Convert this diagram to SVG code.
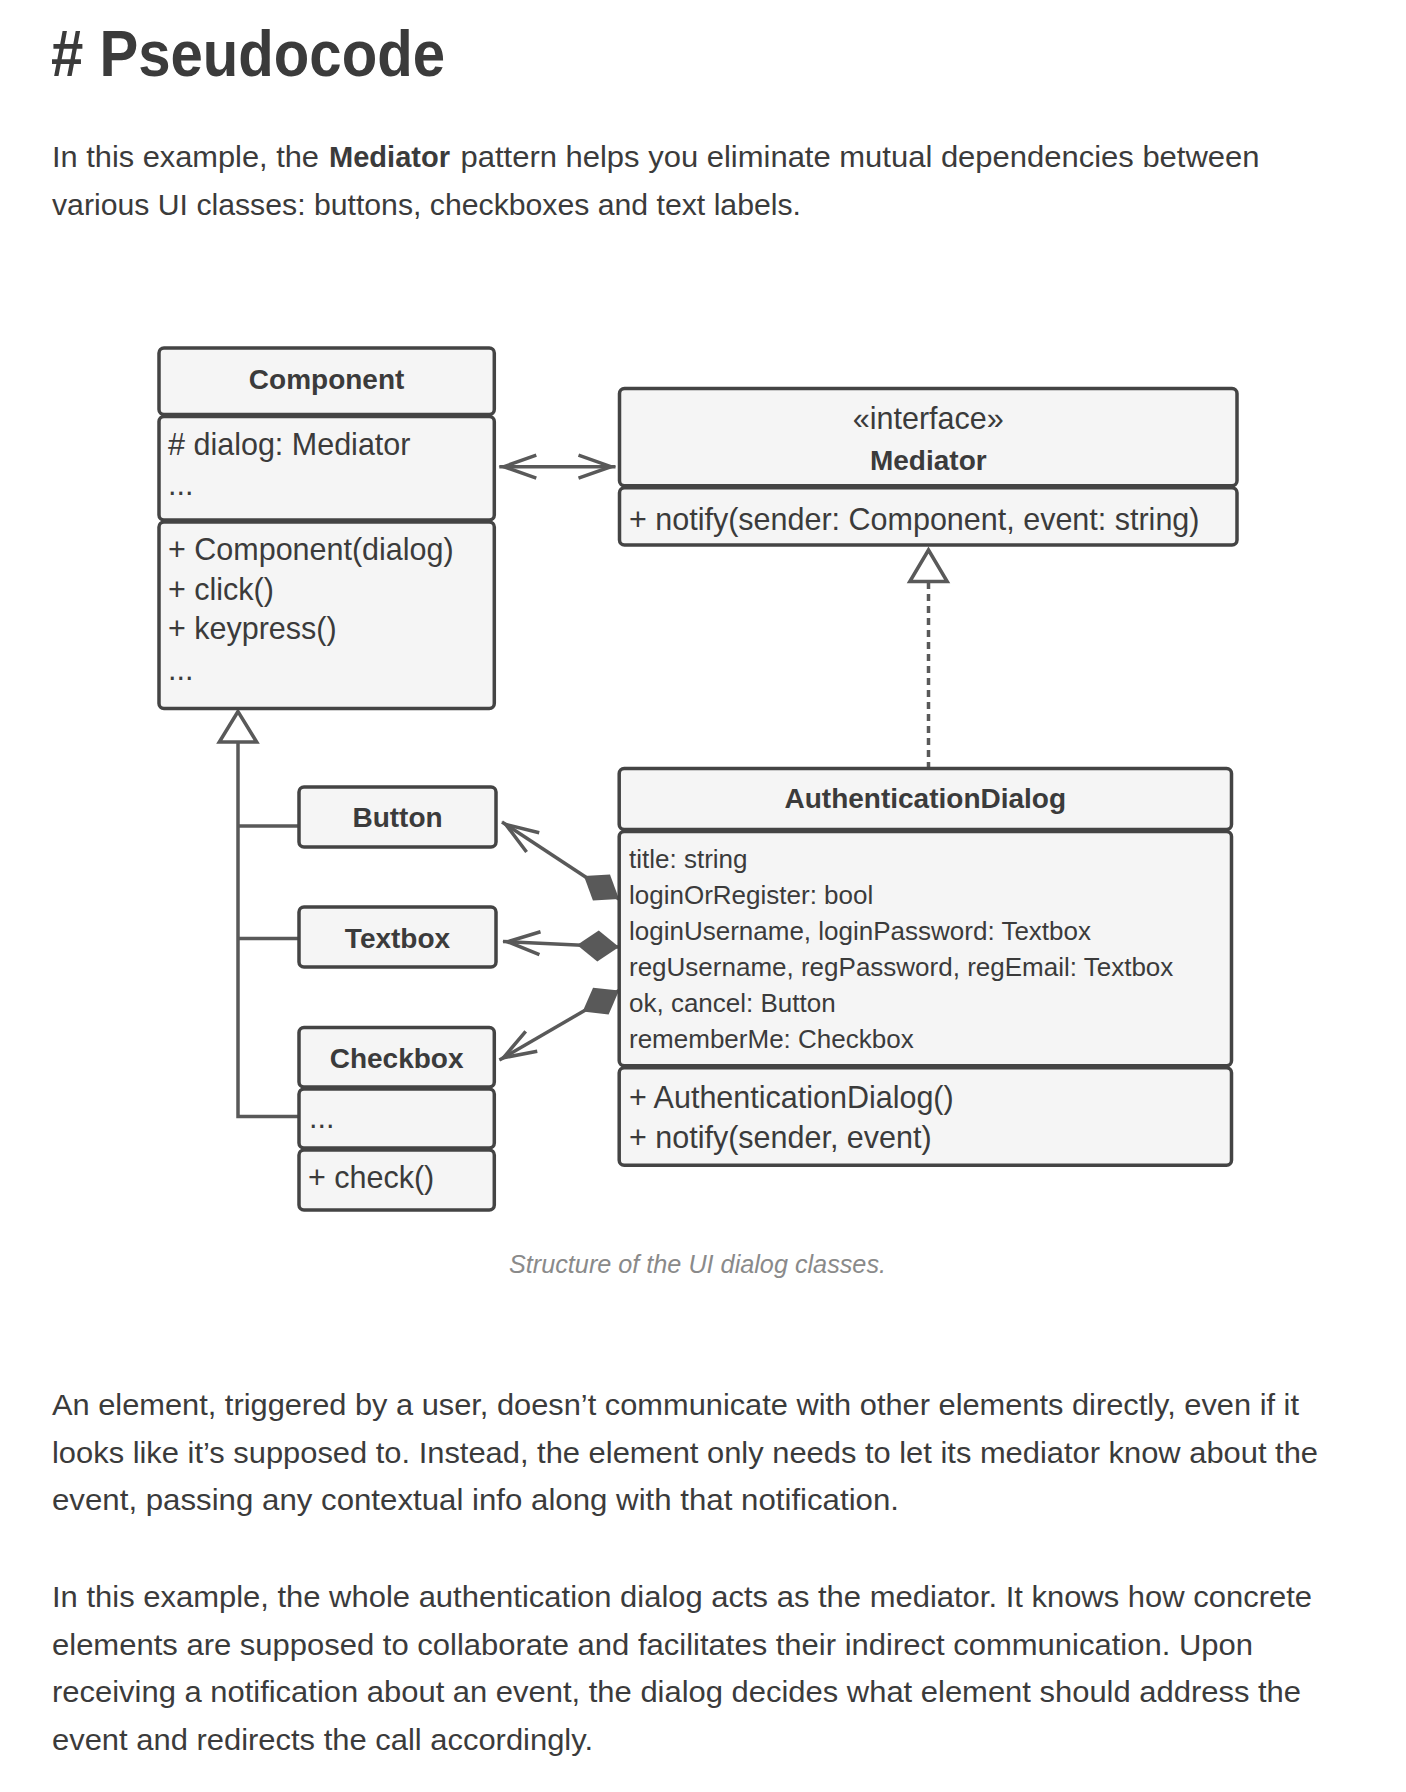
<svg xmlns="http://www.w3.org/2000/svg" width="1406" height="1792" viewBox="0 0 1406 1792">
<defs>
<style>
.t{font-family:"Liberation Sans",Arial,sans-serif;fill:#3b3b3b}
.p{font-size:29px}
.b{font-weight:bold}
.h{font-size:64px;font-weight:bold}
.cap{font-size:26px;font-style:italic;fill:#8a8a8a}
.box rect{fill:#f5f5f5;stroke:#444;stroke-width:3.5}
.n{font-size:28px;font-weight:bold;text-anchor:middle}
.st{font-size:30.5px;text-anchor:middle}
.m{font-size:30.5px}
.a{font-size:26px}
.con{fill:none;stroke:#595959;stroke-width:3.5}
.tri{fill:#fff;stroke:#595959;stroke-width:3.5;stroke-linejoin:miter}
</style>
<marker id="arr" viewBox="-40 -14 44 28" refX="0" refY="0" markerWidth="44" markerHeight="28" markerUnits="userSpaceOnUse" orient="auto-start-reverse" overflow="visible">
<path d="M-37,-11.5 L-4.5,0 L-37,11.5" fill="none" stroke="#595959" stroke-width="3.5"/>
</marker>
<marker id="dia" viewBox="-2 -17 46 34" refX="0" refY="0" markerWidth="46" markerHeight="34" markerUnits="userSpaceOnUse" orient="auto" overflow="visible">
<path d="M0,0 L21,-15.5 L42,0 L21,15.5 Z" fill="#595959"/>
</marker>
</defs>
<rect width="1406" height="1792" fill="#fff"/>

<g id="text-top">
<text class="t h" x="51" y="76" textLength="394" lengthAdjust="spacingAndGlyphs"># Pseudocode</text>
<text class="t p" x="52" y="167" textLength="267" lengthAdjust="spacingAndGlyphs">In this example, the</text>
<text class="t p b" x="329" y="167" textLength="121" lengthAdjust="spacingAndGlyphs">Mediator</text>
<text class="t p" x="460.5" y="167" textLength="799" lengthAdjust="spacingAndGlyphs">pattern helps you eliminate mutual dependencies between</text>
<text class="t p" x="52" y="214.5" textLength="749" lengthAdjust="spacingAndGlyphs">various UI classes: buttons, checkboxes and text labels.</text>
</g>

<g id="connectors">
<path class="con" d="M499.3,466.7 L615.5,466.7" marker-start="url(#arr)" marker-end="url(#arr)"/>
<path class="con" d="M238,742 L238,1116.5 M236.25,826 L299,826 M236.25,938.5 L299,938.5 M236.25,1116.5 L299,1116.5"/>
<polygon class="tri" points="238,711.5 219.3,742 256.7,742"/>
<path class="con" d="M928.5,582 L928.5,767" stroke-width="3" stroke-dasharray="7 5"/>
<polygon class="tri" points="928.5,550 909.8,581.5 947.2,581.5"/>
<path class="con" d="M619,899 L502,822" marker-start="url(#dia)" marker-end="url(#arr)"/>
<path class="con" d="M619,947 L503,941.5" marker-start="url(#dia)" marker-end="url(#arr)"/>
<path class="con" d="M619,990.5 L499.5,1060" marker-start="url(#dia)" marker-end="url(#arr)"/>
</g>

<g id="component" class="box">
<rect x="159" y="348" width="335.3" height="66.5" rx="5"/>
<rect x="159" y="416.5" width="335.3" height="103.5" rx="5"/>
<rect x="159" y="522" width="335.3" height="186.5" rx="5"/>
<text class="t n" x="326.6" y="389">Component</text>
<text class="t m" x="168" y="455"># dialog: Mediator</text>
<text class="t m" x="168" y="495">...</text>
<text class="t m" x="168" y="560">+ Component(dialog)</text>
<text class="t m" x="168" y="599.5">+ click()</text>
<text class="t m" x="168" y="639">+ keypress()</text>
<text class="t m" x="168" y="680">...</text>
</g>

<g id="mediator" class="box">
<rect x="619.5" y="388.5" width="617.5" height="97.2" rx="5"/>
<rect x="619.5" y="487.7" width="617.5" height="57.3" rx="5"/>
<text class="t st" x="928.3" y="429">«interface»</text>
<text class="t n" x="928.3" y="470">Mediator</text>
<text class="t m" x="629" y="529.5">+ notify(sender: Component, event: string)</text>
</g>

<g id="button" class="box">
<rect x="299" y="787" width="197" height="60" rx="5"/>
<text class="t n" x="397.5" y="827">Button</text>
</g>

<g id="textbox" class="box">
<rect x="299" y="907" width="197" height="60" rx="5"/>
<text class="t n" x="397.5" y="947.5">Textbox</text>
</g>

<g id="checkbox" class="box">
<rect x="299" y="1027.5" width="195.3" height="59.5" rx="5"/>
<rect x="299" y="1089" width="195.3" height="59" rx="5"/>
<rect x="299" y="1150" width="195.3" height="60" rx="5"/>
<text class="t n" x="396.6" y="1067.5">Checkbox</text>
<text class="t m" x="309" y="1128">...</text>
<text class="t m" x="308" y="1188" font-size="29.5">+ check()</text>
</g>

<g id="authentication-dialog" class="box">
<rect x="619.2" y="768.5" width="612.3" height="61" rx="5"/>
<rect x="619.2" y="831.5" width="612.3" height="234.2" rx="5"/>
<rect x="619.2" y="1067.7" width="612.3" height="97.6" rx="5"/>
<text class="t n" x="925.3" y="808.3">AuthenticationDialog</text>
<text class="t a" x="629" y="868.3">title: string</text>
<text class="t a" x="629" y="904.3">loginOrRegister: bool</text>
<text class="t a" x="629" y="940.3">loginUsername, loginPassword: Textbox</text>
<text class="t a" x="629" y="976.3">regUsername, regPassword, regEmail: Textbox</text>
<text class="t a" x="629" y="1012.3">ok, cancel: Button</text>
<text class="t a" x="629" y="1048.3">rememberMe: Checkbox</text>
<text class="t m" x="629" y="1108">+ AuthenticationDialog()</text>
<text class="t m" x="629" y="1148">+ notify(sender, event)</text>
</g>

<g id="text-bottom">
<text class="t cap" x="509" y="1272.7" textLength="377" lengthAdjust="spacingAndGlyphs">Structure of the UI dialog classes.</text>
<text class="t p" x="52" y="1415" textLength="1247" lengthAdjust="spacingAndGlyphs">An element, triggered by a user, doesn’t communicate with other elements directly, even if it</text>
<text class="t p" x="52" y="1462.7" textLength="1266" lengthAdjust="spacingAndGlyphs">looks like it’s supposed to. Instead, the element only needs to let its mediator know about the</text>
<text class="t p" x="52" y="1510.3" textLength="847" lengthAdjust="spacingAndGlyphs">event, passing any contextual info along with that notification.</text>
<text class="t p" x="52" y="1606.7" textLength="1260" lengthAdjust="spacingAndGlyphs">In this example, the whole authentication dialog acts as the mediator. It knows how concrete</text>
<text class="t p" x="52" y="1654.5" textLength="1201" lengthAdjust="spacingAndGlyphs">elements are supposed to collaborate and facilitates their indirect communication. Upon</text>
<text class="t p" x="52" y="1702.3" textLength="1249" lengthAdjust="spacingAndGlyphs">receiving a notification about an event, the dialog decides what element should address the</text>
<text class="t p" x="52" y="1750" textLength="541" lengthAdjust="spacingAndGlyphs">event and redirects the call accordingly.</text>
</g>
</svg>
